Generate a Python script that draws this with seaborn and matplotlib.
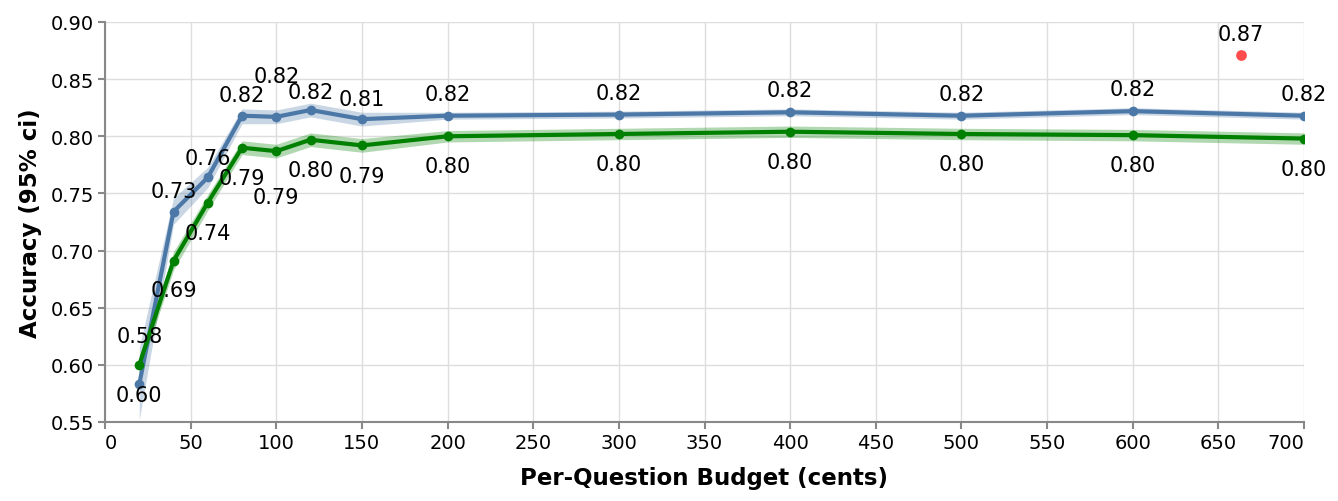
import matplotlib
matplotlib.use("Agg")
import matplotlib.pyplot as plt
import seaborn as sns
import pandas as pd

# per-question budget (cents)
budget = [20, 40, 60, 80, 100, 120, 150, 200, 300, 400, 500, 600, 700]

# blue series: mean accuracy and 95% ci
blue_acc = [0.583, 0.734, 0.764, 0.818, 0.817, 0.823, 0.815, 0.818, 0.819, 0.821, 0.818, 0.822, 0.818]
blue_lo = [0.552, 0.723, 0.755, 0.811, 0.811, 0.817, 0.809, 0.815, 0.816, 0.818, 0.815, 0.819, 0.815]
blue_hi = [0.615, 0.746, 0.773, 0.824, 0.823, 0.829, 0.821, 0.821, 0.822, 0.824, 0.821, 0.825, 0.821]

# green series
green_acc = [0.600, 0.691, 0.742, 0.790, 0.787, 0.797, 0.792, 0.800, 0.802, 0.804, 0.802, 0.801, 0.798]
green_lo = [0.592, 0.683, 0.735, 0.784, 0.781, 0.791, 0.786, 0.795, 0.797, 0.799, 0.797, 0.796, 0.793]
green_hi = [0.608, 0.699, 0.749, 0.796, 0.793, 0.803, 0.798, 0.805, 0.807, 0.809, 0.807, 0.806, 0.803]

# single red reference point
red_budget = [663]
red_acc = [0.871]

# label pixel offsets (vertical) per point
blue_dy = [48, 21, 19, 21, 41, 18, 20, 22, 22, 22, 22, 22, 22]
green_dy = [-30, -29, -30, -30, -46, -30, -31, -30, -30, -30, -30, -30, -30]

BLUE = "#4c78a8"
GREEN = "#008000"
RED = "#ff4d4d"

df = pd.DataFrame({
    "budget": budget * 2,
    "acc": blue_acc + green_acc,
    "series": ["blue"] * len(budget) + ["green"] * len(budget),
})

sns.set_style("whitegrid")
plt.rcParams["font.family"] = ["DejaVu Sans"]
plt.rcParams["text.color"] = "black"

fig = plt.figure(figsize=(13.38, 5.02), dpi=100)
ax = fig.add_axes([105 / 1338, 1 - 423 / 502, (1304 - 105) / 1338, 400 / 502])

ax.fill_between(budget, blue_lo, blue_hi, color=BLUE, alpha=0.3, lw=0)
ax.fill_between(budget, green_lo, green_hi, color=GREEN, alpha=0.3, lw=0)

sns.lineplot(data=df, x="budget", y="acc", hue="series",
             palette={"blue": BLUE, "green": GREEN}, marker="o",
             markersize=7, markeredgewidth=0, linewidth=3, legend=False, ax=ax)
sns.scatterplot(x=red_budget, y=red_acc, color=RED, s=60, linewidth=0, ax=ax)

lab_size = 15
for x, y, d in zip(budget, blue_acc, blue_dy):
    ax.annotate(f"{y:.2f}", (x, y), xytext=(0, d), textcoords="offset pixels",
                ha="center", va="center", fontsize=lab_size, color="black")
for x, y, d in zip(budget, green_acc, green_dy):
    ax.annotate(f"{y:.2f}", (x, y), xytext=(0, d), textcoords="offset pixels",
                ha="center", va="center", fontsize=lab_size, color="black")
for x, y in zip(red_budget, red_acc):
    ax.annotate(f"{y:.2f}", (x, y), xytext=(0, 21), textcoords="offset pixels",
                ha="center", va="center", fontsize=lab_size, color="black")

ax.set_xlim(0, 700)
ax.set_ylim(0.55, 0.90)
ax.set_xticks(range(0, 701, 50))
ax.set_yticks([0.55, 0.60, 0.65, 0.70, 0.75, 0.80, 0.85, 0.90])
ax.set_yticklabels([f"{v:.2f}" for v in ax.get_yticks()])
ax.grid(True, color="#dddddd", linewidth=1)
for s in ["top", "right"]:
    ax.spines[s].set_visible(False)
for s in ["left", "bottom"]:
    ax.spines[s].set_color("#888888")
    ax.spines[s].set_linewidth(1.5)
ax.tick_params(axis="both", colors="#888888", length=5, width=1.5,
               labelcolor="black", labelsize=14, pad=3, left=True, bottom=True)
xl = ax.get_xticklabels()
xl[0].set_ha("left")
xl[-1].set_ha("right")

ax.set_xlabel("Per-Question Budget (cents)", fontsize=16.5, fontweight="bold",
              labelpad=10, color="black")
ax.set_ylabel("Accuracy (95% ci)", fontsize=16.5, fontweight="bold",
              labelpad=6, color="black")

fig.savefig("out.png", dpi=100)
